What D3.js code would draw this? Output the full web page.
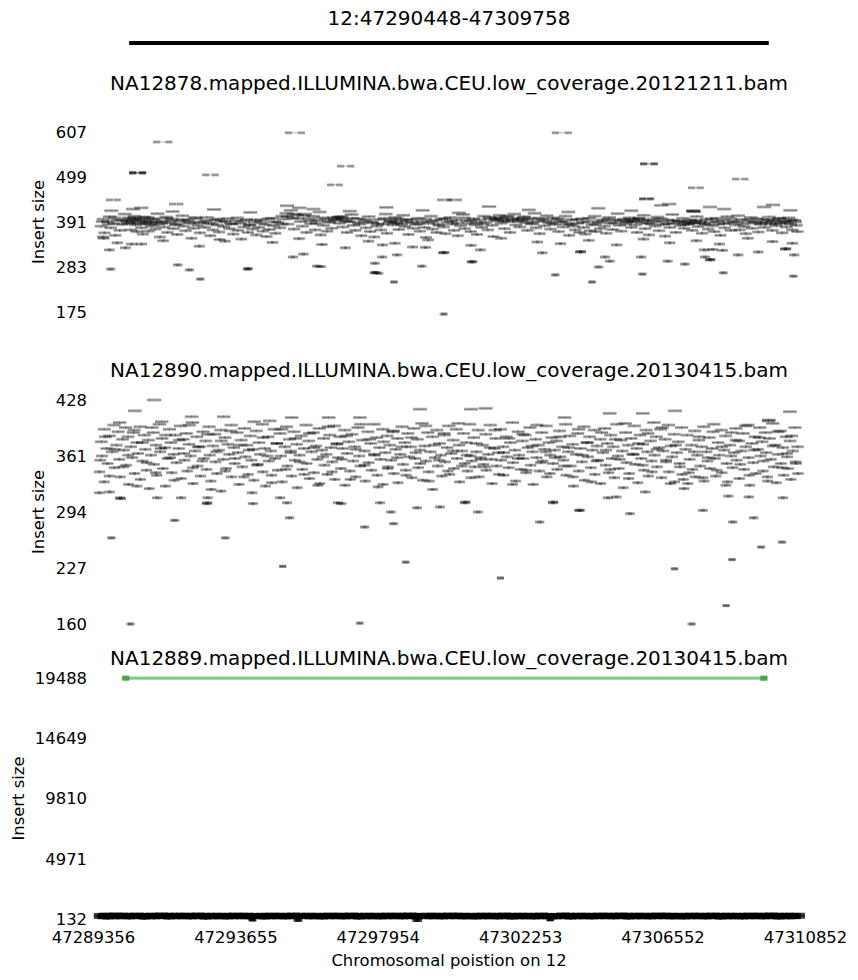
<!DOCTYPE html>
<html><head><meta charset="utf-8">
<script src="https://cdn.jsdelivr.net/npm/d3@7/dist/d3.min.js"></script>
<style>body{margin:0;background:#fff}svg{display:block}</style>
</head><body><svg id="c" width="858" height="980"></svg>
<script>
const chromosome = "12";
const regionTitle = "12:47290448-47309758";
const region = [47290448, 47309758];
const xDomain = [47289356, 47310852];
const xTicks = [47289356, 47293655, 47297954, 47302253, 47306552, 47310852];
const sampleNames = [
  "NA12878.mapped.ILLUMINA.bwa.CEU.low_coverage.20121211.bam",
  "NA12890.mapped.ILLUMINA.bwa.CEU.low_coverage.20130415.bam",
  "NA12889.mapped.ILLUMINA.bwa.CEU.low_coverage.20130415.bam"
];
const yTicks1 = [175, 283, 391, 499, 607];
const yTicks2 = [160, 227, 294, 361, 428];
const yTicks3 = [132, 4971, 9810, 14649, 19488];

// [start, insert size]
const pairs1 = [
[47289410,381],[47289470,398],[47289520,365],[47289600,392],[47289660,404],[47289700,377],[47289790,388],[47289850,359],[47289900,396],[47289980,371],[47290040,385],[47290110,410],
[47290180,393],[47290230,401],[47290260,388],[47290310,372],[47290370,396],[47290400,405],[47290450,384],[47290500,368],[47290540,391],[47290590,399],[47290630,377],[47290680,362],[47290720,394],[47290760,387],[47290810,402],[47290850,369],[47290900,390],[47290940,381],
[47291000,397],[47291050,374],[47291100,411],[47291150,386],[47291200,355],[47291250,392],[47291310,379],[47291360,403],[47291420,366],[47291480,389],[47291540,398],[47291600,375],[47291650,384],
[47291720,361],[47291780,393],[47291850,406],[47291910,381],[47291970,370],[47292020,395],[47292090,388],[47292150,352],[47292200,376],[47292260,399],[47292330,383],[47292400,365],[47292460,391],
[47292540,378],[47292600,402],[47292660,389],[47292720,358],[47292790,372],[47292850,396],[47292920,384],[47292980,367],[47293040,393],[47293110,380],[47293170,345],[47293230,399],[47293290,375],
[47293350,386],[47293410,362],[47293470,394],[47293540,371],[47293600,388],[47293660,350],[47293720,379],[47293790,397],[47293850,366],[47293910,383],[47293980,374],[47294040,391],
[47294110,360],[47294170,378],[47294230,395],[47294300,369],[47294360,385],[47294420,356],[47294490,373],[47294550,400],[47294610,382],[47294680,364],[47294740,390],[47294810,377],[47294870,405],
[47294930,398],[47294990,412],[47295050,386],[47295120,419],[47295180,401],[47295240,374],[47295300,408],[47295370,425],[47295430,392],[47295490,381],[47295560,410],[47295620,366],[47295680,399],
[47295740,387],[47295800,405],[47295870,372],[47295930,394],[47295990,415],[47296050,360],[47296120,383],[47296180,398],[47296240,369],[47296310,390],[47296370,376],[47296430,402],
[47296500,395],[47296550,401],[47296600,388],[47296660,404],[47296710,379],[47296780,396],[47296840,366],[47296900,392],[47296960,409],[47297030,383],[47297090,371],[47297150,399],[47297220,386],[47297280,358],
[47297350,393],[47297410,377],[47297480,404],[47297540,368],[47297600,389],[47297670,355],[47297730,381],[47297790,397],[47297860,372],[47297920,386],[47297990,410],[47298050,364],
[47298110,391],[47298160,396],[47298220,384],[47298280,402],[47298330,388],[47298400,373],[47298450,394],[47298520,407],[47298580,380],[47298640,390],[47298700,361],[47298770,397],[47298830,376],
[47298910,385],[47298970,400],[47299040,369],[47299100,392],[47299170,378],[47299230,354],[47299290,388],[47299360,405],[47299420,374],[47299490,395],[47299550,366],[47299620,383],[47299680,398],
[47299750,379],[47299810,363],[47299880,391],[47299940,402],[47300000,386],[47300070,371],[47300130,396],[47300190,358],[47300260,382],[47300320,409],[47300390,375],[47300450,393],
[47300520,387],[47300580,368],[47300640,399],[47300710,384],[47300770,361],[47300830,396],[47300900,378],[47300960,405],[47301020,390],[47301090,372],[47301150,398],[47301220,383],[47301270,356],
[47301320,401],[47301370,394],[47301420,407],[47301480,388],[47301530,398],[47301590,375],[47301640,403],[47301700,392],[47301760,366],[47301810,396],[47301870,410],[47301930,384],[47301990,399],[47302050,379],
[47302110,395],[47302170,404],[47302230,389],[47302290,371],[47302350,400],[47302410,386],[47302480,412],[47302540,377],[47302600,393],[47302660,363],[47302730,398],[47302790,382],[47302850,406],
[47302920,390],[47302980,374],[47303040,401],[47303100,385],[47303170,396],[47303230,368],[47303290,392],[47303360,379],[47303420,405],[47303480,386],[47303550,359],[47303610,397],[47303670,381],
[47303730,372],[47303790,388],[47303860,366],[47303920,399],[47303980,378],[47304040,362],[47304110,393],[47304170,370],[47304230,384],[47304300,405],[47304360,368],[47304420,390],[47304480,375],
[47304550,396],[47304610,381],[47304670,364],[47304740,402],[47304800,388],[47304860,373],[47304930,395],[47304990,411],[47305050,383],[47305120,369],[47305180,398],[47305240,386],
[47305310,392],[47305360,401],[47305420,378],[47305480,395],[47305540,384],[47305600,366],[47305660,399],[47305720,389],[47305780,407],[47305840,375],[47305900,394],[47305960,360],[47306020,386],[47306080,398],
[47306140,381],[47306200,403],[47306260,370],[47306330,392],[47306390,385],[47306450,357],[47306510,396],[47306580,378],[47306640,409],[47306700,388],[47306770,366],[47306830,394],
[47306900,383],[47306960,400],[47307020,376],[47307080,390],[47307140,385],[47307200,396],[47307260,371],[47307320,389],[47307380,404],[47307440,380],[47307500,393],[47307560,364],[47307620,387],[47307680,398],
[47307740,374],[47307800,391],[47307860,382],[47307930,368],[47307990,400],[47308050,386],[47308120,359],[47308180,395],[47308240,377],[47308310,404],[47308370,389],[47308430,371],
[47308500,393],[47308560,384],[47308630,406],[47308690,372],[47308750,397],[47308820,380],[47308880,363],[47308940,391],[47309010,402],[47309070,376],[47309130,388],[47309200,399],[47309260,367],
[47309320,385],[47309380,396],[47309440,378],[47309500,390],[47309560,403],[47309620,386],[47309680,371],[47309740,394],[47309800,382],[47309860,399],[47309920,388],[47309980,365],[47310040,392],
[47310100,379],[47310160,401],[47310220,386],[47310280,372],[47310340,395],[47310400,383],[47310440,368],
[47289500,352],[47289920,341],[47290650,338],[47291300,346],[47292400,333],[47293000,349],[47294600,342],[47295400,351],[47296100,337],[47297500,345],[47298300,340],[47299300,348],[47300600,335],[47301500,352],[47302600,343],[47303300,339],[47304150,347],[47305000,336],[47305800,350],[47306600,341],[47307400,346],[47308100,338],[47308950,352],[47309700,344],[47310300,340],
[47289700,418],[47290600,425],[47291550,416],[47292800,421],[47293900,414],[47295000,430],[47295800,422],[47296900,417],[47298000,426],[47299100,419],[47300200,413],[47301100,428],[47302300,420],[47303500,415],[47304400,424],[47305400,418],[47306300,431],[47307300,416],[47308200,422],[47309400,427],[47310200,419],
[47291170,583],[47290440,509],[47290450,510],[47290460,508],[47292650,504],[47289750,444],[47291650,434],[47290350,422],[47289750,278],[47291770,288],[47292130,276],[47292470,254],[47293880,278],[47293900,279],[47289690,324],[47289480,355],[47290170,329],[47290350,338],
[47295150,605],[47295240,307],[47296720,525],[47296420,480],[47299740,444],[47300050,444],[47303210,605],[47295550,314],[47295970,285],[47296100,284],[47297720,292],[47297700,269],[47297750,270],[47297850,268],[47298320,247],[47297930,307],[47298380,312],[47299140,285],[47299860,170],[47299770,317],[47299800,318],[47300640,295],[47300660,296],[47302760,317],[47303180,264],[47296810,329],[47297930,336],[47298840,331],[47299230,330],[47300890,324],
[47305870,530],[47305880,531],[47308650,494],[47307320,473],[47305840,446],[47305850,447],[47306530,434],[47307260,417],[47307270,418],[47307770,427],[47309670,432],[47303910,319],[47303920,320],[47304300,247],[47304480,283],[47304660,307],[47304810,297],[47305810,266],[47305750,307],[47306560,297],[47307080,290],[47307680,307],[47307650,324],[47307900,325],[47308200,323],[47307830,300],[47307850,301],[47308250,269],[47308680,312],[47309280,319],[47310100,326],[47310110,327],[47310370,312],[47310370,261],
[47289440,392],[47289630,386],[47289810,401],[47290010,395],[47290200,389],[47290280,398],[47290330,393],[47290420,401],[47290520,387],[47290610,396],[47290700,403],[47290790,391],[47290880,385],[47290970,399],[47291080,392],[47291230,388],[47291390,400],[47291510,394],[47291700,386],[47291880,397],[47292050,391],[47292230,402],[47292370,389],[47292570,395],[47292740,386],[47292950,398],[47293140,392],[47293320,387],[47293510,401],[47293690,393],[47293880,385],[47294070,396],[47294260,389],[47294450,399],[47294640,392],[47294840,386],[47295020,404],[47295210,410],[47295340,399],[47295520,406],[47295710,394],[47295900,388],[47296080,401],[47296270,393],[47296460,397],[47296580,403],[47296680,399],[47296810,392],[47296990,400],[47297180,389],[47297380,397],[47297570,391],[47297760,386],[47297950,400],[47298140,393],[47298250,389],[47298360,399],[47298490,385],[47298610,396],[47298800,391],[47298990,387],[47299190,398],[47299390,392],[47299580,386],[47299770,399],[47299970,393],[47300160,388],[47300350,401],[47300550,395],[47300740,390],[47300930,386],[47301120,402],[47301300,396],[47301450,400],[47301560,393],[47301680,405],[47301840,398],[47302010,392],[47302140,401],[47302260,396],[47302440,389],[47302620,400],[47302810,394],[47303010,388],[47303200,399],[47303390,391],[47303580,385],[47303760,396],[47303950,390],[47304140,400],[47304330,386],[47304520,393],[47304710,398],[47304900,389],[47305090,395],[47305280,390],[47305390,397],[47305510,392],[47305630,400],[47305750,395],[47305930,388],[47306110,393],[47306300,399],[47306490,387],[47306680,394],[47306870,391],[47306990,386],[47307110,393],[47307230,388],[47307350,395],[47307470,390],[47307650,385],[47307830,398],[47308020,392],[47308210,387],[47308400,399],[47308590,391],[47308780,386],[47308970,396],[47309160,392],[47309350,389],[47309530,397],[47309650,393],[47309770,387],[47309890,400],[47310010,394],[47310130,389],[47310250,396],[47310370,391]
];

const pairs2 = [
[47289380,342],[47289420,378],[47289450,361],[47289500,393],[47289530,330],[47289580,370],[47289620,352],[47289660,385],[47289700,318],[47289750,366],[47289790,398],[47289830,347],[47289880,374],[47289920,390],[47289970,357],[47290010,336],[47290060,381],[47290100,368],[47290140,395],
[47290180,350],[47290220,384],[47290270,327],[47290310,372],[47290360,359],[47290400,392],[47290440,340],[47290490,377],[47290530,364],[47290580,396],[47290620,333],[47290670,355],[47290710,386],[47290750,369],[47290800,344],[47290840,380],[47290890,322],[47290930,362],
[47290980,389],[47291020,351],[47291070,374],[47291110,338],[47291160,399],[47291200,366],[47291250,382],[47291290,346],[47291340,371],[47291380,325],[47291430,358],[47291470,393],[47291520,377],[47291560,341],[47291610,363],[47291650,386],[47291700,353],
[47291760,370],[47291800,397],[47291850,334],[47291890,381],[47291940,356],[47291980,388],[47292030,343],[47292070,375],[47292120,361],[47292160,401],[47292210,328],[47292250,367],[47292300,384],[47292340,349],[47292390,372],[47292430,337],[47292480,390],[47292520,358],
[47292570,379],[47292610,345],[47292660,396],[47292700,362],[47292750,331],[47292790,373],[47292840,387],[47292880,354],[47292930,340],[47292970,368],[47293020,392],[47293060,319],[47293110,357],[47293150,383],[47293200,346],[47293240,375],[47293290,363],[47293330,398],
[47293370,336],[47293420,371],[47293460,352],[47293510,389],[47293550,365],[47293600,327],[47293640,380],[47293690,348],[47293730,394],[47293780,360],[47293820,374],[47293870,339],[47293910,385],[47293960,356],[47294000,369],[47294050,332],[47294090,391],[47294130,350],
[47294180,377],[47294220,363],[47294270,399],[47294310,342],[47294360,370],[47294400,325],[47294450,384],[47294490,355],[47294540,367],[47294580,338],[47294630,393],[47294670,358],[47294720,376],[47294760,344],[47294810,388],[47294850,361],[47294900,330],
[47294960,372],[47295000,396],[47295050,349],[47295090,381],[47295140,365],[47295180,337],[47295230,390],[47295270,356],[47295320,375],[47295360,323],[47295410,362],[47295450,385],[47295500,345],[47295540,370],[47295590,398],[47295630,352],[47295680,379],[47295720,334],
[47295770,366],[47295810,389],[47295860,341],[47295900,373],[47295950,357],[47295990,394],[47296040,328],[47296080,368],[47296130,382],[47296170,350],[47296220,363],[47296260,339],[47296310,386],[47296350,371],[47296400,354],[47296440,397],[47296490,333],[47296530,376],
[47296580,359],[47296620,384],[47296670,346],[47296710,370],[47296760,392],[47296800,326],[47296850,364],[47296890,378],[47296940,343],[47296980,387],[47297030,355],[47297070,372],[47297120,336],[47297160,395],[47297210,361],[47297250,349],[47297300,380],
[47297370,367],[47297410,331],[47297460,390],[47297500,353],[47297550,376],[47297590,344],[47297640,399],[47297680,362],[47297730,383],[47297770,338],[47297820,371],[47297860,357],[47297910,393],[47297950,327],[47298000,365],[47298040,385],[47298090,348],[47298130,374],
[47298180,356],[47298220,391],[47298270,340],[47298310,369],[47298360,382],[47298400,329],[47298450,363],[47298490,396],[47298540,351],[47298580,377],[47298630,344],[47298670,388],[47298720,360],[47298760,372],[47298810,335],[47298850,394],[47298900,358],
[47298960,381],[47299000,347],[47299050,368],[47299090,400],[47299140,332],[47299180,373],[47299230,355],[47299270,389],[47299320,342],[47299360,366],[47299410,384],[47299450,321],[47299500,359],[47299540,392],[47299590,349],[47299630,376],[47299680,362],[47299720,337],
[47299770,386],[47299810,354],[47299860,371],[47299900,397],[47299950,339],[47299990,364],[47300040,380],[47300080,346],[47300130,393],[47300170,358],[47300220,374],[47300260,330],[47300310,367],[47300350,388],[47300400,352],[47300440,377],[47300490,343],[47300530,399],
[47300570,361],[47300610,355],[47300660,383],[47300700,348],[47300750,366],[47300790,392],[47300840,336],[47300880,359],[47300930,374],[47300970,351],[47301020,387],[47301060,344],[47301110,363],[47301150,398],[47301200,357],[47301240,328],[47301290,370],[47301330,382],
[47301370,349],[47301410,365],[47301460,393],[47301500,356],[47301550,372],[47301590,338],[47301640,384],[47301680,360],[47301730,347],[47301770,377],[47301820,401],[47301860,353],[47301910,368],[47301950,331],[47302000,390],[47302040,362],[47302090,345],[47302130,379],
[47302170,358],[47302210,386],[47302260,341],[47302300,371],[47302350,395],[47302390,350],[47302440,366],[47302480,327],[47302530,381],[47302570,359],[47302620,374],[47302660,343],[47302710,389],[47302750,355],[47302800,369],[47302840,397],[47302890,336],[47302930,377],
[47302980,362],[47303020,383],[47303070,352],[47303110,368],[47303160,379],[47303200,345],[47303250,391],[47303290,360],[47303340,372],[47303380,356],[47303430,399],[47303470,338],[47303520,366],[47303560,385],[47303610,349],[47303650,375],[47303700,325],
[47303760,363],[47303800,388],[47303850,343],[47303890,370],[47303940,354],[47303980,396],[47304030,332],[47304070,377],[47304120,360],[47304160,384],[47304210,347],[47304250,368],[47304300,392],[47304340,339],[47304390,373],[47304430,356],[47304480,381],[47304520,328],
[47304570,365],[47304610,394],[47304660,350],[47304700,376],[47304750,341],[47304790,386],[47304840,358],[47304880,372],[47304930,335],[47304970,399],[47305020,361],[47305060,346],[47305110,380],[47305150,367],[47305200,323],[47305240,389],[47305290,353],[47305330,374],
[47305370,340],[47305410,382],[47305460,363],[47305500,397],[47305550,351],[47305590,370],[47305640,329],[47305680,386],[47305730,358],[47305770,375],[47305820,344],[47305860,392],[47305910,366],[47305950,337],[47306000,379],[47306040,355],[47306090,401],[47306130,362],
[47306170,384],[47306210,348],[47306260,371],[47306300,393],[47306350,335],[47306390,367],[47306440,381],[47306480,354],[47306530,398],[47306570,342],[47306620,373],[47306660,360],[47306710,387],[47306750,330],[47306800,365],[47306840,378],[47306890,352],[47306930,395],
[47306970,339],[47307010,333],[47307060,369],[47307100,386],[47307150,328],[47307190,357],[47307240,374],[47307280,345],[47307330,391],[47307370,336],[47307420,362],[47307460,380],[47307510,349],[47307550,372],[47307600,396],[47307640,331],[47307690,366],[47307730,355],
[47307770,383],[47307810,346],[47307860,370],[47307900,399],[47307950,358],[47307990,337],[47308040,377],[47308080,362],[47308130,392],[47308170,341],[47308220,368],[47308260,385],[47308310,352],[47308350,330],[47308400,374],[47308440,389],[47308490,347],[47308530,365],
[47308570,394],[47308610,356],[47308660,379],[47308700,334],[47308750,367],[47308790,388],[47308840,345],[47308880,372],[47308930,398],[47308970,359],[47309020,326],[47309060,376],[47309110,353],[47309150,384],[47309200,340],[47309240,369],[47309290,395],[47309330,361],
[47309370,378],[47309410,343],[47309460,389],[47309500,365],[47309550,336],[47309590,382],[47309640,357],[47309680,400],[47309730,348],[47309770,374],[47309820,329],[47309860,363],[47309910,391],[47309950,352],[47310000,371],[47310040,338],[47310090,384],[47310130,360],
[47310170,346],[47310210,379],[47310260,333],[47310300,367],[47310350,395],[47310390,354],[47310440,372],[47310470,340],
[47290990,428],[47290410,415],[47289780,263],[47291680,284],[47293220,263],[47290410,160],[47294970,229],[47295150,287],[47289390,317],[47290020,311],[47290040,310],[47291140,311],[47291860,311],[47292640,304],[47292650,305],[47292660,311],[47294030,304],[47294850,311],[47295060,305],[47294000,317],
[47291230,402],[47292130,408],[47293100,408],[47294490,403],[47295150,407],[47299020,417],[47300560,417],[47301000,418],[47297420,276],[47298290,280],[47298680,234],[47297330,161],[47301550,215],[47302700,282],[47298200,294],[47300830,294],[47303910,296],[47298990,299],[47299680,300],[47297870,305],[47296600,305],[47296700,304],[47300430,305],[47300450,306],[47303090,305],[47303100,306],
[47296270,407],[47297210,407],[47303390,407],[47304750,412],[47305750,412],[47306720,415],[47310190,414],[47309550,403],[47309560,404],[47303880,296],[47305420,292],[47307620,296],[47308530,282],[47309160,287],[47309400,252],[47310030,258],[47308530,237],[47306800,226],[47308380,182],[47307350,160],[47304750,311],[47305000,312],[47308380,313],[47309000,312],[47310030,311],[47305870,318],
[47289400,356],[47289540,384],[47289680,337],[47289820,369],[47289960,401],[47290100,348],[47290240,362],[47290380,389],[47290520,325],[47290660,377],[47290800,353],[47290940,395],[47291080,341],[47291220,370],[47291360,386],[47291500,359],[47291640,332],[47291780,380],[47291920,364],[47292060,398],[47292200,347],[47292340,372],[47292480,355],[47292620,387],[47292760,321],[47292900,366],[47293040,379],[47293180,343],[47293320,391],[47293460,358],[47293600,374],[47293740,336],[47293880,368],[47294020,402],[47294160,351],[47294300,383],[47294440,361],[47294580,329],[47294720,376],[47294860,393],[47295000,345],[47295140,367],[47295280,382],[47295420,354],[47295560,339],[47295700,388],[47295840,371],[47295980,326],[47296120,360],[47296260,396],[47296400,342],[47296540,375],[47296680,357],[47296820,385],[47296960,333],[47297100,369],[47297240,399],[47297380,350],[47297520,381],[47297660,363],[47297800,324],[47297940,378],[47298080,346],[47298220,390],[47298360,359],[47298500,372],[47298640,338],[47298780,383],[47298920,365],[47299060,352],[47299200,397],[47299340,331],[47299480,374],[47299620,356],[47299760,388],[47299900,343],[47300040,367],[47300180,400],[47300320,349],[47300460,362],[47300600,335],[47300740,376],[47300880,357],[47301020,348],[47301160,371],[47301300,392],[47301440,339],[47301580,365],[47301720,382],[47301860,327],[47302000,358],[47302140,387],[47302280,344],[47302420,373],[47302560,398],[47302700,353],[47302840,366],[47302980,340],[47303120,359],[47303260,384],[47303400,349],[47303540,371],[47303680,336],[47303820,393],[47303960,362],[47304100,377],[47304240,330],[47304380,355],[47304520,389],[47304660,368],[47304800,345],[47304940,381],[47305080,357],[47305220,400],[47305360,334],[47305500,363],[47305640,376],[47305780,350],[47305920,388],[47306060,342],[47306200,369],[47306340,395],[47306480,356],[47306620,328],[47306760,374],[47306900,348],[47307040,322],[47307180,341],[47307320,366],[47307460,384],[47307600,335],[47307740,359],[47307880,390],[47308020,344],[47308160,372],[47308300,326],[47308440,361],[47308580,380],[47308720,351],[47308860,397],[47309000,338],[47309140,368],[47309280,383],[47309420,355],[47309560,331],[47309700,373],[47309840,390],[47309980,347],[47310120,364],[47310260,385],[47310400,352]
];

const pairs3 = [
[47289380,380],[47289480,352],[47289560,401],[47289650,329],[47289740,375],[47289830,410],[47289920,346],[47290010,388],[47290110,362],[47290200,395],[47290290,337],[47290380,371],[47290480,405],[47290570,354],[47290660,383],[47290750,320],[47290850,366],[47290940,399],[47291030,343],[47291120,378],[47291220,412],[47291310,357],[47291400,390],[47291490,331],[47291590,369],[47291680,402],[47291770,348],[47291860,385],[47291960,360],[47292050,396],[47292140,339],[47292230,374],[47292330,408],[47292420,351],[47292510,387],[47292600,325],[47292700,364],[47292790,398],[47292880,345],[47292970,380],[47293070,356],[47293160,392],[47293250,334],[47293340,370],[47293440,404],[47293530,350],[47293620,385],[47293710,362],[47293810,397],[47293900,341],[47293990,376],[47294080,180],[47294180,359],[47294270,393],[47294360,330],[47294460,367],[47294550,401],[47294640,347],[47294730,382],[47294830,358],[47294920,394],[47295010,336],[47295100,372],[47295200,406],[47295290,353],[47295380,389],[47295470,150],[47295570,365],[47295660,400],[47295750,344],[47295840,379],[47295940,355],[47296030,391],[47296120,332],[47296210,368],[47296310,403],[47296400,349],[47296490,384],[47296580,361],[47296680,396],[47296770,338],[47296860,373],[47296950,407],[47297050,352],[47297140,387],[47297230,328],[47297320,366],[47297420,399],[47297510,346],[47297600,381],[47297690,357],[47297790,392],[47297880,335],[47297970,371],[47298060,405],[47298160,350],[47298250,386],[47298340,363],[47298440,397],[47298530,340],[47298620,376],[47298710,410],[47298810,354],[47298900,389],[47298990,326],[47299080,132],[47299180,369],[47299270,402],[47299360,347],[47299450,383],[47299550,359],[47299640,394],[47299730,337],[47299820,373],[47299920,408],[47300010,351],[47300100,388],[47300190,362],[47300290,398],[47300380,339],[47300470,375],[47300560,355],[47300660,391],[47300750,331],[47300840,368],[47300930,403],[47301030,348],[47301120,384],[47301210,360],[47301300,395],[47301400,336],[47301490,372],[47301580,406],[47301670,352],[47301770,387],[47301860,327],[47301950,365],[47302040,400],[47302140,345],[47302230,380],[47302320,356],[47302410,392],[47302510,334],[47302600,370],[47302690,404],[47302780,350],[47302880,385],[47302970,361],[47303060,196],[47303150,341],[47303250,377],[47303340,411],[47303430,353],[47303520,389],[47303620,328],[47303710,367],[47303800,401],[47303890,346],[47303990,382],[47304080,358],[47304170,393],[47304260,335],[47304360,371],[47304450,405],[47304540,351],[47304630,386],[47304730,363],[47304820,397],[47304910,340],[47305000,376],[47305100,409],[47305190,354],[47305280,390],[47305370,329],[47305470,366],[47305560,400],[47305650,347],[47305740,383],[47305840,359],[47305930,394],[47306020,337],[47306110,373],[47306210,407],[47306300,352],[47306390,388],[47306480,362],[47306580,398],[47306670,339],[47306760,375],[47306850,355],[47306950,391],[47307040,332],[47307130,368],[47307220,403],[47307320,348],[47307410,384],[47307500,360],[47307590,395],[47307690,336],[47307780,372],[47307870,406],[47307960,351],[47308060,387],[47308150,327],[47308240,365],[47308330,400],[47308430,345],[47308520,380],[47308610,356],[47308700,392],[47308800,334],[47308890,370],[47308980,404],[47309070,350],[47309170,385],[47309260,361],[47309350,396],[47309440,341],[47309540,377],[47309630,411],[47309720,353],[47309810,389],[47309910,329],[47310000,367],[47310090,401],[47310180,346],[47310280,382],[47310370,358],[47310460,393]
];
const discordant3 = [[47290230,19488],[47290250,19460]];

const svg = d3.select("#c");
const FONT = "DejaVu Sans";
const x = d3.scaleLinear().domain(xDomain).range([93, 805]);

svg.append("text").attr("x", 449).attr("y", 18).attr("text-anchor","middle").attr("dominant-baseline","central")
  .attr("font-family", FONT).attr("font-size", 20).text(regionTitle);
svg.append("line").attr("x1", x(region[0])).attr("x2", x(region[1])).attr("y1", 43).attr("y2", 43)
  .attr("stroke","#000").attr("stroke-width",4);

const panels = [
  {name: sampleNames[0], data: pairs1, ticks: yTicks1, range:[312,132], titleY: 83, labelX: 38, op: 0.3, h: 3},
  {name: sampleNames[1], data: pairs2, ticks: yTicks2, range:[624,400], titleY: 370, labelX: 38, op: 0.3, h: 3},
  {name: sampleNames[2], data: pairs3, ticks: yTicks3, range:[919,678], titleY: 658, labelX: 18, op: 0.75, h: 6}
];

function drawPairs(g, data, y, color, op, h, lineOp, lw) {
  const sel = g.selectAll(null).data(data).join("g");
  sel.append("line")
    .attr("x1", d => x(d[0])).attr("x2", d => x(d[0] + d[1]))
    .attr("y1", d => y(d[1])).attr("y2", d => y(d[1]))
    .attr("stroke", color).attr("stroke-opacity", lineOp).attr("stroke-width", lw);
  sel.append("rect")
    .attr("x", d => x(d[0])).attr("y", d => y(d[1]) - h/2)
    .attr("width", 7).attr("height", h).attr("fill", color).attr("fill-opacity", op);
  sel.append("rect")
    .attr("x", d => x(d[0] + d[1]) - 7).attr("y", d => y(d[1]) - h/2)
    .attr("width", 7).attr("height", h).attr("fill", color).attr("fill-opacity", op);
}

panels.forEach((p, i) => {
  const y = d3.scaleLinear().domain([p.ticks[0], p.ticks[p.ticks.length-1]]).range(p.range);
  svg.append("text").attr("x", 449).attr("y", p.titleY).attr("text-anchor","middle").attr("dominant-baseline","central")
    .attr("font-family", FONT).attr("font-size", 20).text(p.name);
  const ax = svg.append("g").attr("transform","translate(93,0)")
    .call(d3.axisLeft(y).tickValues(p.ticks).tickFormat(d3.format("d")).tickSize(0).tickPadding(6));
  ax.select(".domain").remove();
  ax.selectAll("text").attr("font-family", FONT).attr("font-size", 16.4).attr("fill","#000");
  const mid = (p.range[0] + p.range[1]) / 2;
  svg.append("text").attr("transform", `translate(${p.labelX},${mid}) rotate(-90)`)
    .attr("text-anchor","middle").attr("dominant-baseline","central")
    .attr("font-family", FONT).attr("font-size", 16.4).text("Insert size");
  drawPairs(svg.append("g"), p.data, y, "#000", p.op, p.h, p.op, 1);
  if (i === 2) {
    drawPairs(svg.append("g"), discordant3, y, "#2ca02c", 0.55, 5, 0.35, 3);
  }
});

const xa = svg.append("g").attr("transform","translate(0,937)")
  .call(d3.axisBottom(x).tickValues(xTicks).tickFormat(d3.format("d")).tickSize(0).tickPadding(0));
xa.select(".domain").remove();
xa.selectAll("text").attr("y", 0).attr("dy","0.35em").attr("font-family", FONT).attr("font-size", 16.4).attr("fill","#000");
svg.append("text").attr("x", 449).attr("y", 960).attr("text-anchor","middle").attr("dominant-baseline","central")
  .attr("font-family", FONT).attr("font-size", 16.4).text("Chromosomal poistion on " + chromosome);
</script></body></html>
